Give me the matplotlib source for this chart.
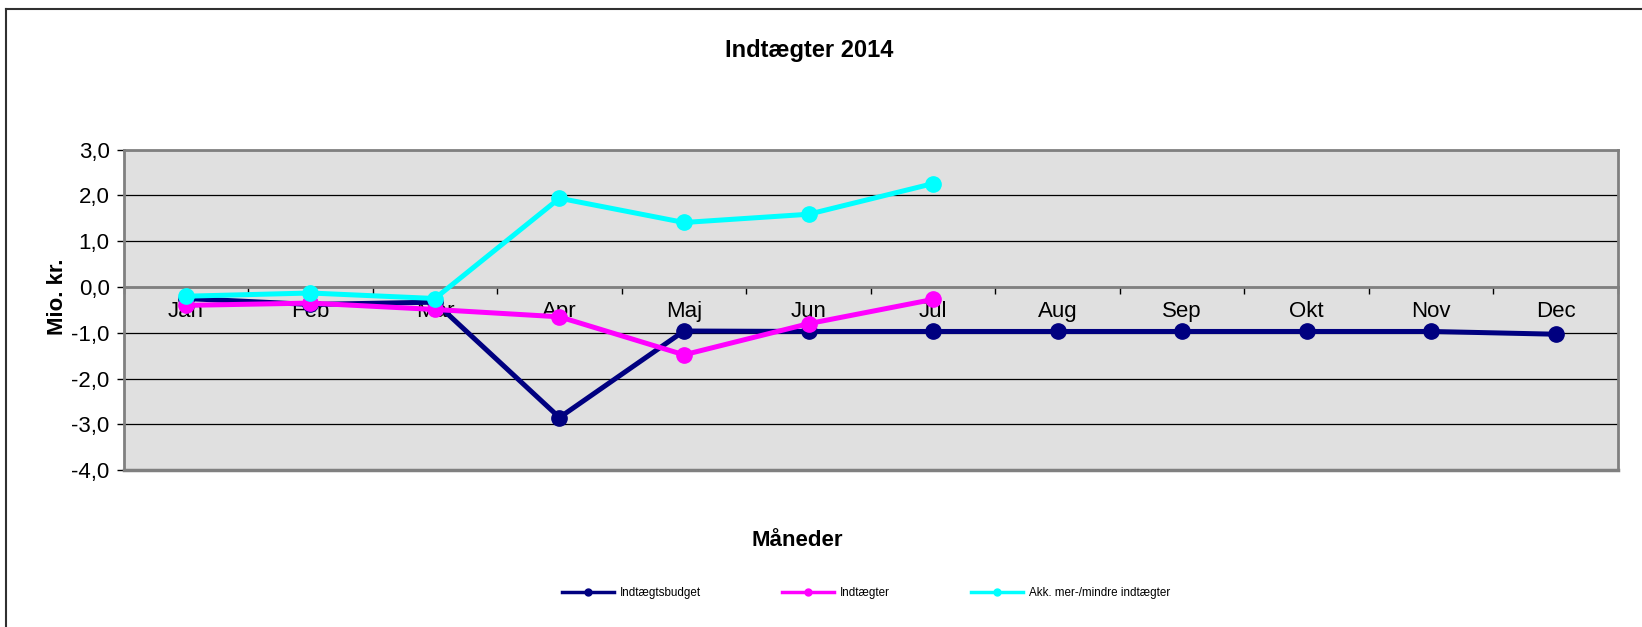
import matplotlib
matplotlib.use("Agg")
import matplotlib.pyplot as plt
from matplotlib.lines import Line2D
from matplotlib.ticker import FuncFormatter

plt.rcParams['font.family'] = ['Liberation Sans', 'DejaVu Sans']

# Data (Mio. kr.)
months = ["Jan", "Feb", "Mar", "Apr", "Maj", "Jun", "Jul", "Aug", "Sep", "Okt", "Nov", "Dec"]
budget = [-0.25, -0.38, -0.33, -2.85, -0.96, -0.97, -0.97, -0.97, -0.97, -0.97, -0.97, -1.03]
indtaegter = [-0.40, -0.35, -0.49, -0.65, -1.48, -0.80, -0.27]
akk = [-0.20, -0.13, -0.25, 1.94, 1.41, 1.59, 2.26]

labels = ["Indtægtsbudget", "Indtægter", "Akk. mer-/mindre indtægter"]
colors = ["#000080", "#FF00FF", "#00FFFF"]

W, H = 1642, 627
fig = plt.figure(figsize=(W / 100, H / 100), dpi=100)

# Axes placed to match the reference
ax = fig.add_axes([123.6 / W, 1 - 470.2 / H, (1618 - 123.6) / W, (470.2 - 149.7) / H])
ax.set_facecolor("#E0E0E0")

x_all = list(range(len(months)))
series = [budget, indtaegter, akk]
for vals, col in zip(series, colors):
    ax.plot(x_all[:len(vals)], vals, color=col, lw=3.6, marker="o", markersize=11, zorder=3)

ax.set_xlim(-0.5, len(months) - 0.5)
ax.set_ylim(-4, 3)
ax.set_yticks(range(-4, 4))
ax.yaxis.set_major_formatter(FuncFormatter(lambda v, p: f"{v:.1f}".replace(".", ",")))
ax.yaxis.grid(True, color="black", lw=0.9, zorder=1)
ax.set_axisbelow(True)

# x axis crosses at zero
ax.spines["bottom"].set_position(("data", 0))
for s in ax.spines.values():
    s.set_color("#808080")
    s.set_linewidth(2)
ax.axhline(-4, color="#808080", lw=2.5, zorder=2, clip_on=False)

ax.set_xticks(x_all)
ax.set_xticklabels(months)
ax.set_xticks([i - 0.5 for i in range(len(months) + 1)], minor=True)
ax.tick_params(axis="x", which="major", length=0, pad=10, labelsize=16)
ax.tick_params(axis="x", which="minor", length=5, width=1, color="black", direction="out")
ax.tick_params(axis="y", length=5, width=1, color="black", pad=5, labelsize=16)

# Titles
fig.text(809 / W, 1 - 50 / H, "Indtægter 2014", ha="center", va="center",
         fontsize=17, fontweight="bold")
fig.text(797 / W, 1 - 540 / H, "Måneder", ha="center", va="center",
         fontsize=16, fontweight="bold")
fig.text(57.6 / W, 1 - 297 / H, "Mio. kr.", ha="center", va="center",
         rotation=90, fontsize=16, fontweight="bold")

# Legend
handles = [Line2D([], [], color=c, lw=2.5, marker="o", markersize=5) for c in colors]
fig.legend(handles, labels, loc="center", bbox_to_anchor=(866 / W, 1 - 593 / H),
           ncol=3, frameon=False, fontsize=8.4, handlelength=4.5, handletextpad=0.5,
           columnspacing=6.9)

# Outer chart border (left and top visible)
fig.add_artist(Line2D([6 / W, 6 / W], [0, 1 - 9 / H], color="#303030", lw=1.5,
                      transform=fig.transFigure))
fig.add_artist(Line2D([6 / W, 1], [1 - 9 / H, 1 - 9 / H], color="#303030", lw=1.5,
                      transform=fig.transFigure))

fig.savefig("out.png", dpi=100)
